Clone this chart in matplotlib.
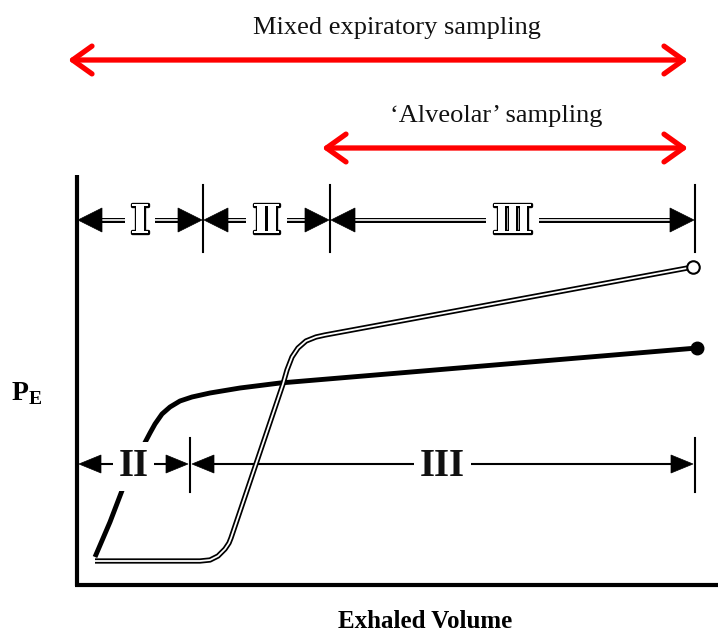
import matplotlib
matplotlib.use('Agg')
import matplotlib.pyplot as plt
from matplotlib.patches import FancyArrowPatch, Polygon
import matplotlib.patheffects as pe

plt.rcParams['font.family'] = ['Liberation Serif', 'DejaVu Serif']
plt.rcParams['mathtext.fontset'] = 'custom'
plt.rcParams['mathtext.bf'] = 'Liberation Serif:bold'

# sampling windows along exhaled volume (sketch units = pixels)
sampling_labels = ['Mixed expiratory sampling', '\u2018Alveolar\u2019 sampling']
sampling_start = [68, 322]
sampling_end = [688, 688]
sampling_y = [60, 148]
sampling_text_x = [397, 496]

# phase boundaries, upper row (outlined numerals) and lower row
phase_top_bounds = [77, 203, 330, 695]
phase_top_labels = ['\u2160', '\u2161', '\u2162']
phase_top_y = 220
phase_bot_bounds = [77, 190, 695]
phase_bot_labels = ['II', 'III']
phase_bot_y = 464

# solid curve (filled end marker)
solid_x = [95, 110, 123, 140, 150, 155, 162, 170, 180, 192, 210, 240, 280, 697]
solid_y = [557, 522, 488, 452, 433, 424, 414, 407, 401, 397, 393, 388, 383, 348]
# double-line curve (open end marker)
open_x = [95, 200, 210, 218, 225, 229, 231, 283, 287, 292, 298, 306, 316, 325, 693]
open_y = [561, 561, 560, 556, 549, 543, 538, 384, 370, 357, 348, 341, 337, 335, 267]

fig = plt.figure(figsize=(7.18, 6.33), dpi=100)
ax = fig.add_axes([0, 0, 1, 1])
ax.set_xlim(0, 718)
ax.set_ylim(633, 0)
ax.axis('off')


def head(tip, y, d, hl, hw, z=4):
    # d=+1: points left (base to the right of tip)
    ax.add_patch(Polygon([(tip, y), (tip + d * hl, y - hw), (tip + d * hl, y + hw)],
                         closed=True, fc='black', ec='black', lw=0.5, zorder=z))


def dbl(x, y, w_out=3.6, w_in=1.2, z=2):
    ax.plot(x, y, color='black', lw=w_out, solid_capstyle='butt',
            solid_joinstyle='round', zorder=z)
    ax.plot(x, y, color='white', lw=w_in, solid_capstyle='butt',
            solid_joinstyle='round', zorder=z + 0.01)


# frame
ax.plot([77, 77], [175, 586], color='black', lw=3, solid_capstyle='butt', zorder=3)
ax.plot([75, 718], [585, 585], color='black', lw=3, solid_capstyle='butt', zorder=3)

# red sampling arrows
for lab, a, b, y, tx in zip(sampling_labels, sampling_start, sampling_end,
                            sampling_y, sampling_text_x):
    ax.add_patch(FancyArrowPatch((a, y), (b, y),
                                 arrowstyle='<->,head_length=14,head_width=10',
                                 mutation_scale=1, color='#ff0000', lw=3.8,
                                 shrinkA=0, shrinkB=0, capstyle='round',
                                 joinstyle='round'))
    ax.text(tx, y - 32, lab, ha='center', va='center', fontsize=19,
            color='#111111')

# upper phase row
for xb in phase_top_bounds[1:]:
    ax.plot([xb, xb], [185, 252], color='black', lw=1.5, zorder=3)
for a, b, lab in zip(phase_top_bounds[:-1], phase_top_bounds[1:], phase_top_labels):
    hl, hw = 24, 12
    dbl([a + 1 + hl - 2, b - 1 - hl + 2], [phase_top_y] * 2, z=3)
    head(a + 1, phase_top_y, 1, hl, hw)
    head(b - 1, phase_top_y, -1, hl, hw)
    ax.text((a + b) / 2, phase_top_y + 13, lab, ha='center', va='baseline',
            fontsize=29, fontweight='bold', color='white', zorder=5,
            path_effects=[pe.withStroke(linewidth=2.4, foreground='black')],
            bbox=dict(boxstyle='square,pad=0.15', fc='white', ec='none'))

# lower phase row
for xb in phase_bot_bounds[1:]:
    ax.plot([xb, xb], [438, 492], color='black', lw=1.5, zorder=3)
for a, b, lab in zip(phase_bot_bounds[:-1], phase_bot_bounds[1:], phase_bot_labels):
    hl, hw = 22, 9
    ax.plot([a + hl, b - hl], [phase_bot_y] * 2, color='black', lw=1.5, zorder=1)
    head(a + 2, phase_bot_y, 1, hl, hw)
    head(b - 2, phase_bot_y, -1, hl, hw)
    ax.text((a + b) / 2, phase_bot_y + 12, lab, ha='center', va='baseline',
            fontsize=28, fontweight='bold', color='#111111', zorder=5,
            bbox=dict(boxstyle='square,pad=0.15', fc='white', ec='none'))

# curves
ax.plot(solid_x, solid_y, color='black', lw=3.5, solid_capstyle='butt',
        solid_joinstyle='round', zorder=2)
ax.plot(solid_x[-1], solid_y[-1], 'o', color='black', ms=9, zorder=6)
dbl(open_x, open_y, w_out=3.8, w_in=1.3, z=2.5)
ax.plot(open_x[-1], open_y[-1], 'o', mfc='white', mec='black', mew=1.5, ms=9, zorder=6)

# axis labels
ax.text(11, 400, r'$\mathbf{P}_{\mathbf{E}}$', ha='left', va='baseline',
        fontsize=20)
ax.text(425, 622, 'Exhaled Volume', ha='center', va='center', fontsize=18,
        fontweight='bold')

fig.savefig('out.png', dpi=100)
